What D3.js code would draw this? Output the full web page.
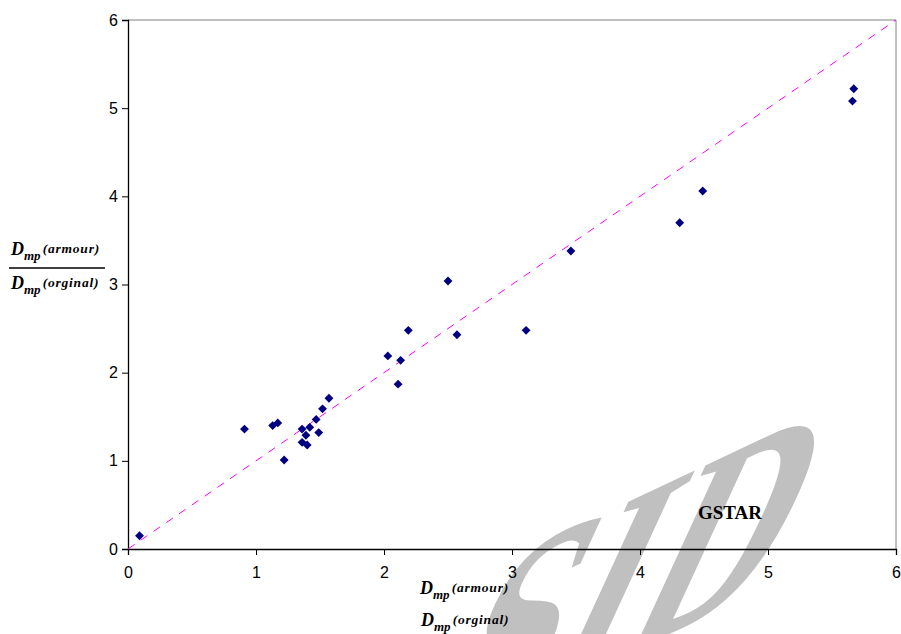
<html>
<head>
  <script src="https://d3js.org/d3.v7.min.js"></script>
</head>
<style type="text/css">
body { margin: 0; background: #fff; }
.tick text { font: 16px "Liberation Sans", Arial, sans-serif; fill: #000; }
.lab { font-family: "Liberation Serif", "Times New Roman", serif; font-style: italic; font-weight: bold; fill: #000; }
</style>
<body>
<script>

// D_mp(armour) / D_mp(orginal) pairs
var xVals = [0.09, 0.91, 1.13, 1.17, 1.22, 1.36, 1.36, 1.39, 1.40, 1.42, 1.47, 1.49, 1.52, 1.57,
             2.03, 2.11, 2.13, 2.19, 2.50, 2.57, 3.11, 3.46, 4.31, 4.49, 5.66, 5.67];
var yVals = [0.15, 1.36, 1.40, 1.43, 1.01, 1.36, 1.21, 1.29, 1.18, 1.38, 1.47, 1.32, 1.59, 1.71,
             2.19, 1.87, 2.14, 2.48, 3.04, 2.43, 2.48, 3.38, 3.70, 4.06, 5.08, 5.22];
var xTicks = [0, 1, 2, 3, 4, 5, 6];
var yTicks = [0, 1, 2, 3, 4, 5, 6];
var refLine = [0, 6];

var width = 901,
    height = 634,
    margin = {top: 20, right: 5, bottom: 85, left: 128};

var svg = d3.select('body')
  .append('svg')
  .attr('width', width)
  .attr('height', height);

var x = d3.scaleLinear().domain([0, 6]).range([margin.left, width - margin.right]);
var y = d3.scaleLinear().domain([0, 6]).range([height - margin.bottom, margin.top]);

// watermark behind everything
svg.append('text')
  .attr('transform', 'matrix(0.7,-0.33,-0.46,1.0,762,590)')
  .attr('text-anchor', 'end')
  .style('font-family', '"Liberation Serif", serif')
  .style('font-weight', 'bold')
  .style('font-size', '295px')
  .attr('fill', '#c0c0c0')
  .text('SID');

// grey frame on top and right
svg.append('line')
  .attr('x1', x(0)).attr('x2', x(6))
  .attr('y1', y(6)).attr('y2', y(6))
  .attr('stroke', '#808080');
svg.append('line')
  .attr('x1', x(6)).attr('x2', x(6))
  .attr('y1', y(6)).attr('y2', y(0))
  .attr('stroke', '#808080');

var xAxis = svg.append('g')
  .attr('transform', 'translate(0,' + y(0) + ')')
  .call(d3.axisBottom(x).tickValues(xTicks).tickSize(6).tickPadding(12).tickFormat(d3.format('d')));

var yAxis = svg.append('g')
  .attr('transform', 'translate(' + x(0) + ',0)')
  .call(d3.axisLeft(y).tickValues(yTicks).tickSize(6).tickPadding(4).tickFormat(d3.format('d')));

svg.selectAll('.domain').attr('stroke', '#000').attr('stroke-width', 1.3);
svg.selectAll('.tick line').attr('stroke', '#000');

// 1:1 reference line
svg.append('line')
  .attr('x1', x(refLine[0])).attr('y1', y(refLine[0]))
  .attr('x2', x(refLine[1])).attr('y2', y(refLine[1]))
  .attr('stroke', '#ff00ff')
  .attr('stroke-dasharray', '8,7.5');

// points
svg.selectAll('path.pt')
  .data(xVals)
  .enter().append('path')
  .attr('class', 'pt')
  .attr('d', d3.symbol().type(d3.symbolDiamond2).size(50))
  .attr('transform', function(d, i) { return 'translate(' + x(d) + ',' + y(yVals[i]) + ')'; })
  .attr('fill', '#000080');

svg.append('text')
  .attr('x', 698)
  .attr('y', 519)
  .style('font-family', '"Liberation Serif", "Times New Roman", serif')
  .style('font-weight', 'bold')
  .style('font-size', '19px')
  .text('GSTAR');

// axis label fractions
function fracPart(gx, gy, sub, rest) {
  var t = svg.append('text').attr('class', 'lab').attr('x', gx).attr('y', gy);
  t.append('tspan').style('font-size', '18px').text('D');
  t.append('tspan').attr('dy', 5).style('font-size', '13px').text(sub);
  t.append('tspan').attr('dy', -7).attr('dx', 2).style('font-size', '13.5px')
    .style('letter-spacing', '0.8px').text(rest);
}

fracPart(11, 255, 'mp', '(armour)');
svg.append('line')
  .attr('x1', 9).attr('x2', 105)
  .attr('y1', 268).attr('y2', 268)
  .attr('stroke', '#000').attr('stroke-width', 1.3);
fracPart(11, 289, 'mp', '(orginal)');

fracPart(420, 594, 'mp', '(armour)');
fracPart(421, 626, 'mp', '(orginal)');

</script>
</body>
</html>
